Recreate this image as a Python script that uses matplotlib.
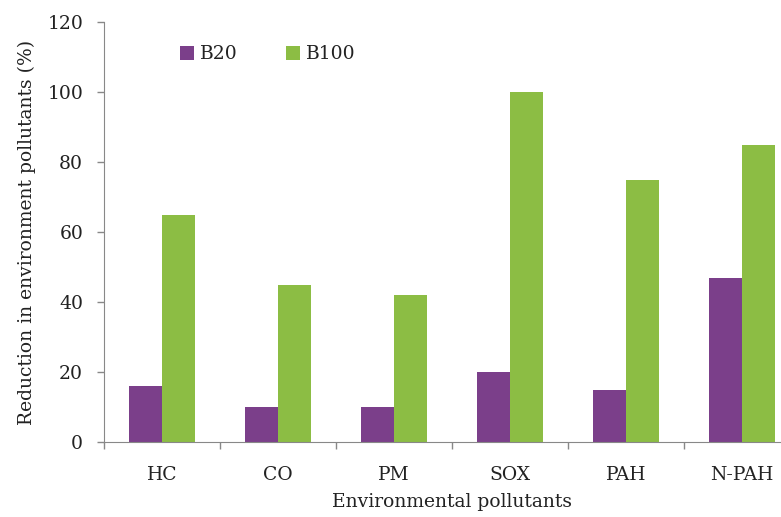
import matplotlib
matplotlib.use("Agg")
import matplotlib.pyplot as plt
import numpy as np

categories = ["HC", "CO", "PM", "SOX", "PAH", "N-PAH"]
b20 = [16, 10, 10, 20, 15, 47]
b100 = [65, 45, 42, 100, 75, 85]
yticks = [0, 20, 40, 60, 80, 100, 120]

plt.rcParams['font.family'] = ['DejaVu Serif']

fig = plt.figure(figsize=(7.81, 5.17), dpi=100)
ax = fig.add_axes([104/781, 1-442/517, 696/781, 420/517])

x = np.arange(len(categories))
w = 0.285
ax.bar(x - w/2, b20, w, color="#7B3F8A", label="B20")
ax.bar(x + w/2, b100, w, color="#8CBD44", label="B100")

ax.set_xlim(-0.5, len(categories) - 0.5)
ax.set_ylim(0, 120)
ax.set_yticks(yticks)
ax.set_xticks(x)
ax.set_xticklabels(categories, fontsize=13.5)
ax.set_xticks(np.arange(len(categories) + 1) - 0.5, minor=True)
ax.tick_params(axis='x', which='major', length=0, pad=17, labelcolor="#222222")
ax.tick_params(axis='x', which='minor', length=5, color="#888888", width=1)
ax.tick_params(axis='y', length=5, color="#888888", width=1, labelsize=13.5,
               pad=10, labelcolor="#222222")

for s in ["top", "right"]:
    ax.spines[s].set_visible(False)
for s in ["left", "bottom"]:
    ax.spines[s].set_color("#888888")

ax.set_ylabel("Reduction in environment pollutants (%)", fontsize=13.5,
              labelpad=8, color="#222222")
ax.set_xlabel("Environmental pollutants", fontsize=13.5, labelpad=7,
              color="#222222")

ax.legend(loc="upper left", bbox_to_anchor=(0.085, 0.985), ncol=2, frameon=False,
          fontsize=13.5, handlelength=0.75, handleheight=0.75, handletextpad=0.3,
          columnspacing=2.6, labelcolor="#222222")

fig.savefig("out.png", dpi=100)
